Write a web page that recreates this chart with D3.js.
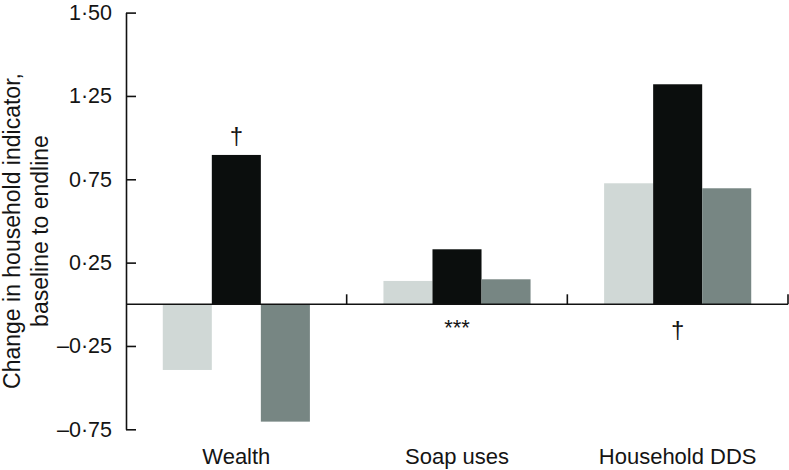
<!DOCTYPE html>
<html>
<head>
<meta charset="utf-8">
<script src="https://cdn.jsdelivr.net/npm/d3@7"></script>
<style>
  html, body { margin: 0; padding: 0; background: #fff; }
  svg { display: block; font-family: "Liberation Sans", Arial, Helvetica, sans-serif; }
</style>
</head>
<body>
<svg id="chart" width="789" height="470"></svg>
<script>
// ---- data ----
const categories = ["Wealth", "Soap uses", "Household DDS"];
const series = ["Arm 1", "Arm 2", "Arm 3"];
const arm1Values = [-0.394, 0.14, 0.726];
const arm2Values = [0.896, 0.33, 1.32];
const arm3Values = [-0.704, 0.15, 0.696];
const tickValues = [-0.75, -0.25, 0.25, 0.75, 1.25, 1.75];
const tickLabels = ["–0·75", "–0·25", "0·25", "0·75", "1·25", "1·50"];
const annotationsAbove = ["†", "", ""];   // above the arm 2 bar
const annotationsBelow = ["", "***", "†"]; // below the zero line
const yTitleLines = ["Change in household indicator,", "baseline to endline"];
const colors = ["#d0d8d6", "#0b0e0d", "#778683"];

(function () {
const valuesBySeries = [arm1Values, arm2Values, arm3Values];
const rows = categories.map((c, i) => ({
  category: c,
  values: series.map((s, j) => ({ series: s, idx: j, value: valuesBySeries[j][i] }))
}));

const svg = d3.select("#chart");
const mLeft = 126, mRight = 788, mTop = 12.6, mBottom = 429.3;
const ink = "#141414";

const x0 = d3.scaleBand().domain(categories).range([mLeft, mRight]).paddingInner(0).paddingOuter(0);
const x1 = d3.scaleBand().domain(series).range([0, x0.bandwidth()]).paddingInner(0).paddingOuter(0.75);
const y = d3.scaleLinear().domain([-0.75, 1.75]).range([mBottom, mTop]);
const color = d3.scaleOrdinal().domain(series).range(colors);

// bars
const g = svg.append("g");
g.selectAll("g.cat").data(rows).join("g")
  .attr("class", "cat")
  .attr("transform", d => `translate(${x0(d.category)},0)`)
  .selectAll("rect").data(d => d.values).join("rect")
  .attr("x", d => x1(d.series))
  .attr("width", x1.bandwidth())
  .attr("y", d => y(Math.max(0, d.value)))
  .attr("height", d => Math.abs(y(d.value) - y(0)))
  .attr("fill", d => color(d.series));

// y axis
const yAxis = d3.axisLeft(y)
  .tickValues(tickValues)
  .tickFormat((d, i) => tickLabels[i])
  .tickSizeInner(-10)
  .tickSizeOuter(0)
  .tickPadding(14);
const ya = svg.append("g").attr("transform", `translate(${mLeft},0)`).call(yAxis);
ya.select(".domain").attr("stroke", "#111").attr("stroke-width", 1.6);
ya.selectAll(".tick line").attr("stroke", "#111").attr("stroke-width", 1.6);
ya.selectAll(".tick text")
  .attr("font-size", 21.5)
  .attr("fill", ink)
  .attr("font-family", "'Liberation Sans', Arial, Helvetica, sans-serif");

// x axis on zero line, ticks pointing up at band boundaries
const boundaries = categories.map(c => x0(c) + x0.bandwidth());
const xa = svg.append("g").attr("transform", `translate(0,${y(0)})`);
xa.append("line")
  .attr("x1", mLeft).attr("x2", mRight)
  .attr("y1", 0).attr("y2", 0)
  .attr("stroke", "#111").attr("stroke-width", 1.6);
xa.selectAll("line.btick").data(boundaries).join("line")
  .attr("class", "btick")
  .attr("x1", d => d).attr("x2", d => d)
  .attr("y1", 0).attr("y2", -10)
  .attr("stroke", "#111").attr("stroke-width", 1.6);

// category labels
svg.selectAll("text.cat").data(categories).join("text")
  .attr("class", "cat")
  .attr("x", d => x0(d) + x0.bandwidth() / 2)
  .attr("y", 464)
  .attr("text-anchor", "middle")
  .attr("font-size", 22)
  .attr("fill", ink)
  .text(d => d);

// annotations above arm 2 bar
svg.selectAll("text.above").data(rows).join("text")
  .attr("class", "above")
  .attr("x", d => x0(d.category) + x1(series[1]) + x1.bandwidth() / 2)
  .attr("y", d => y(d.values[1].value) - 11)
  .attr("text-anchor", "middle")
  .attr("font-size", 24)
  .attr("fill", ink)
  .text((d, i) => annotationsAbove[i]);

// annotations below zero line
svg.selectAll("text.below").data(rows).join("text")
  .attr("class", "below")
  .attr("x", d => x0(d.category) + x0.bandwidth() / 2)
  .attr("y", (d, i) => annotationsBelow[i] === "†" ? y(0) + 34 : y(0) + 31)
  .attr("text-anchor", "middle")
  .attr("font-size", (d, i) => annotationsBelow[i] === "†" ? 24 : 22)
  .attr("fill", ink)
  .text((d, i) => annotationsBelow[i]);

// y title
svg.selectAll("text.ytitle").data(yTitleLines).join("text")
  .attr("class", "ytitle")
  .attr("transform", (d, i) => `translate(${20 + i * 28},231) rotate(-90)`)
  .attr("text-anchor", "middle")
  .attr("font-size", 23)
  .attr("fill", ink)
  .text(d => d);
})();
</script>
</body>
</html>
